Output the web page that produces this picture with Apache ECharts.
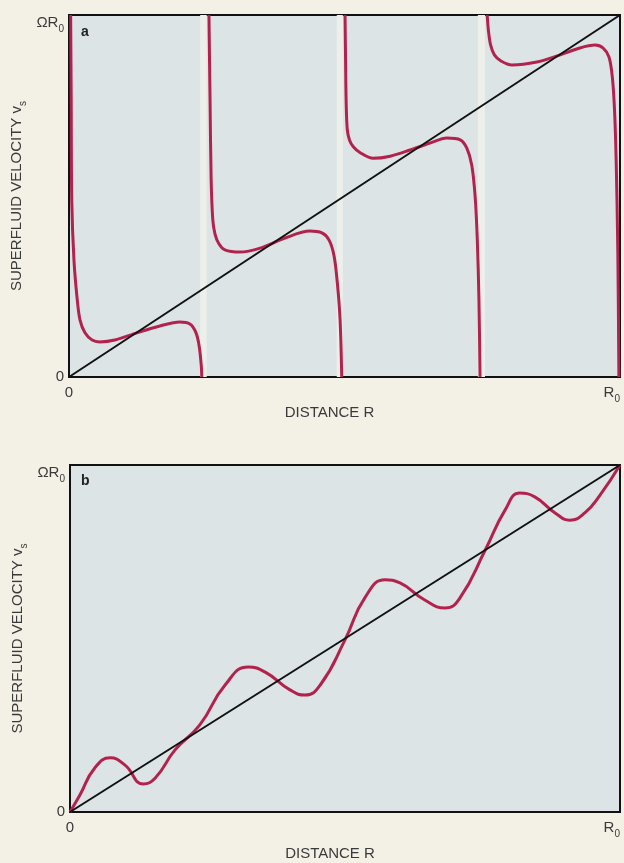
<!DOCTYPE html>
<html><head><meta charset="utf-8">
<script src="https://cdn.jsdelivr.net/npm/echarts@6/dist/echarts.min.js"></script>
<style>html,body{margin:0;padding:0;background:#f3f0e6}#c{width:624px;height:863px}</style>
</head><body><div id="c"></div>
<script>
// x in units of R0, y in units of ΩR0
const xTickLabels = ['0', 'R'];
const yTickLabels = ['0', 'ΩR'];
const axisTitleX = 'DISTANCE R';
const axisTitleY = 'SUPERFLUID VELOCITY v';

// panel a: vortex sheet positions (narrow light bands)
const vortexBands = [[0.238, 0.250], [0.486, 0.497], [0.742, 0.755]];

// panel a: superfluid velocity in each annular zone
const zoneA1 = [[0.003,1.0],[0.004,0.765],[0.005,0.489],[0.009,0.323],[0.015,0.213],[0.020,0.157],[0.029,0.122],[0.042,0.102],[0.056,0.097],[0.083,0.102],[0.123,0.122],[0.165,0.141],[0.201,0.152],[0.220,0.146],[0.230,0.124],[0.236,0.088],[0.240,0.033],[0.241,0]];
const zoneA2 = [[0.254,1.0],[0.256,0.765],[0.258,0.544],[0.261,0.434],[0.265,0.395],[0.272,0.368],[0.283,0.351],[0.310,0.345],[0.347,0.356],[0.392,0.384],[0.437,0.403],[0.459,0.398],[0.472,0.378],[0.481,0.335],[0.487,0.260],[0.492,0.157],[0.495,0]];
const zoneA3 = [[0.501,1.0],[0.502,0.870],[0.503,0.760],[0.505,0.684],[0.509,0.655],[0.516,0.636],[0.528,0.620],[0.552,0.604],[0.583,0.610],[0.619,0.627],[0.655,0.646],[0.686,0.660],[0.710,0.655],[0.722,0.632],[0.731,0.585],[0.737,0.500],[0.741,0.380],[0.744,0.213],[0.746,0]];
const zoneA4 = [[0.759,1.0],[0.761,0.960],[0.765,0.918],[0.772,0.890],[0.784,0.873],[0.804,0.862],[0.849,0.870],[0.886,0.887],[0.927,0.909],[0.955,0.917],[0.969,0.909],[0.980,0.884],[0.986,0.830],[0.990,0.740],[0.993,0.600],[0.996,0.351],[0.998,0]];

// panel b: wavy superfluid velocity
const waveB = [[0,0],[0.018,0.049],[0.045,0.127],[0.073,0.156],[0.100,0.135],[0.133,0.081],[0.155,0.098],[0.191,0.179],[0.236,0.251],[0.282,0.366],[0.324,0.418],[0.355,0.403],[0.400,0.352],[0.427,0.337],[0.455,0.366],[0.500,0.496],[0.536,0.617],[0.573,0.669],[0.600,0.660],[0.645,0.611],[0.682,0.588],[0.709,0.617],[0.755,0.755],[0.791,0.870],[0.818,0.919],[0.845,0.908],[0.882,0.862],[0.909,0.841],[0.936,0.862],[0.964,0.914],[1.0,1.0]];

// solid-body rotation v = ΩR
const solidBody = [[0,0],[1,1]];

const FONT = '"Liberation Sans", Arial, Helvetica, sans-serif';
const TXT = '#3a3a3a';
const RED = '#b3224c';
const PLOT_BG = '#dce4e6';

const subRich = {
  n: {fontFamily: FONT, fontSize: 15, color: TXT, lineHeight: 15},
  m: {fontFamily: FONT, fontSize: 15, color: TXT, lineHeight: 19, verticalAlign: 'top'},
  s: {fontFamily: FONT, fontSize: 10, color: TXT, lineHeight: 10, verticalAlign: 'bottom'},
  e: {fontSize: 10, lineHeight: 20}
};

function xAxisCfg(gi, gap) {
  return {
    type: 'value', gridIndex: gi, min: 0, max: 1, interval: 1,
    name: axisTitleX, nameLocation: 'middle', nameGap: gap,
    nameTextStyle: {fontFamily: FONT, fontSize: 15, color: TXT, padding: [0, 30, 0, 0]},
    axisLine: {show: true, lineStyle: {color: '#111', width: 2}},
    axisTick: {show: false}, splitLine: {show: false},
    axisLabel: {
      margin: 8, alignMaxLabel: 'right',
      formatter: v => v === 0 ? '{n|' + xTickLabels[0] + '}' : '{m|' + xTickLabels[1] + '}{s|0}',
      rich: subRich
    }
  };
}
function yAxisCfg(gi) {
  return {
    type: 'value', gridIndex: gi, min: 0, max: 1, interval: 1,
    name: '{m|' + axisTitleY + '}{s|s}', nameLocation: 'middle', nameGap: 41,
    nameMoveOverlap: false,
    nameTextStyle: {rich: subRich},
    axisLine: {show: true, lineStyle: {color: '#111', width: 2}},
    axisTick: {show: false}, splitLine: {show: false},
    axisLabel: {
      margin: 5,
      formatter: v => v === 0 ? '{n|' + yTickLabels[0] + '}' : '{e|}\n{m|' + yTickLabels[1] + '}{s|0}',
      rich: subRich
    }
  };
}
function redLine(data, xi, extra) {
  return Object.assign({
    type: 'line', xAxisIndex: xi, yAxisIndex: xi, data: data, showSymbol: false,
    smooth: 0.3,
    lineStyle: {color: RED, width: 3}, z: 3, silent: true, clip: true
  }, extra || {});
}

const chart = echarts.init(document.getElementById('c'), null, {renderer: 'canvas'});
chart.setOption({
  backgroundColor: '#f3f0e6',
  animation: false,
  grid: [
    {left: 69, top: 15, width: 551, height: 362, show: true, backgroundColor: PLOT_BG, borderColor: '#111', borderWidth: 2, containLabel: false, outerBoundsMode: 'none'},
    {left: 70, top: 465, width: 550, height: 347, show: true, backgroundColor: PLOT_BG, borderColor: '#111', borderWidth: 2, containLabel: false, outerBoundsMode: 'none'}
  ],
  xAxis: [xAxisCfg(0, 23), xAxisCfg(1, 34)],
  yAxis: [yAxisCfg(0), yAxisCfg(1)],
  graphic: [
    {type: 'text', left: 81, top: 25, style: {text: 'a', fontFamily: FONT, fontSize: 14, fontWeight: 'bold', fill: '#222'}},
    {type: 'text', left: 81, top: 474, style: {text: 'b', fontFamily: FONT, fontSize: 14, fontWeight: 'bold', fill: '#222'}}
  ],
  series: [
    {
      type: 'line', xAxisIndex: 0, yAxisIndex: 0, data: [], silent: true,
      markArea: {silent: true, itemStyle: {color: '#edefea'},
        data: vortexBands.map(b => [{xAxis: b[0]}, {xAxis: b[1]}])}
    },
    redLine(zoneA1, 0),
    redLine(zoneA2, 0),
    redLine(zoneA3, 0),
    redLine(zoneA4, 0),
    {type: 'line', xAxisIndex: 0, yAxisIndex: 0, data: solidBody, showSymbol: false, lineStyle: {color: '#111', width: 2}, z: 4, silent: true},
    redLine(waveB, 1, {smooth: 0.5}),
    {type: 'line', xAxisIndex: 1, yAxisIndex: 1, data: solidBody, showSymbol: false, lineStyle: {color: '#111', width: 2}, z: 4, silent: true}
  ]
});
</script></body></html>
